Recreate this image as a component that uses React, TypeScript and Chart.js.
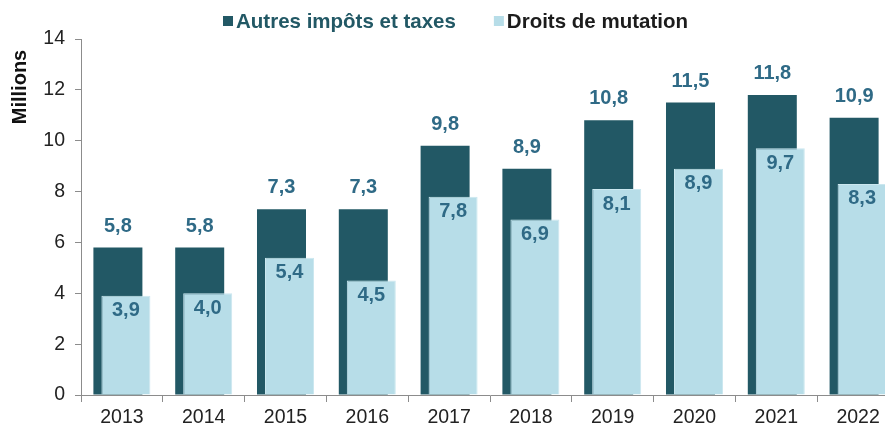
import { useEffect, useRef } from 'react';
import { Chart, registerables } from 'chart.js';

Chart.register(...registerables);

const years = ['2013', '2014', '2015', '2016', '2017', '2018', '2019', '2020', '2021', '2022'];
const autresValues = [5.8, 5.8, 7.3, 7.3, 9.8, 8.9, 10.8, 11.5, 11.8, 10.9];
const droitsValues = [3.9, 4.0, 5.4, 4.5, 7.8, 6.9, 8.1, 8.9, 9.7, 8.3];
const yTickValues = [0, 2, 4, 6, 8, 10, 12, 14];
const seriesNames = ['Autres impôts et taxes', 'Droits de mutation'];
const yTitle = 'Millions';

const FONT = "'Liberation Sans', Arial, sans-serif";
const DARK = '#225865';
const LIGHT = '#b7dde8';
const LABEL_COLOR = '#2f6a86';
const AXIS_COLOR = '#8c8c8c';
const TICK_COLOR = '#222222';

const fmt = (v: number) => v.toFixed(1).replace('.', ',');

const valueLabels = {
  id: 'valueLabels',
  afterDatasetsDraw(chart: any) {
    const ctx = chart.ctx;
    ctx.save();
    ctx.font = `bold 20px ${FONT}`;
    ctx.fillStyle = LABEL_COLOR;
    ctx.textAlign = 'center';
    ctx.textBaseline = 'alphabetic';
    chart.data.datasets.forEach((ds: any, di: number) => {
      const meta = chart.getDatasetMeta(di);
      meta.data.forEach((el: any, i: number) => {
        const v = ds.data[i] as number;
        const y = di === 0 ? el.y - 16 : el.y + 20.5;
        ctx.fillText(fmt(v), el.x, y);
      });
    });
    ctx.restore();
  },
};

const customLegend = {
  id: 'customLegend',
  afterDraw(chart: any) {
    const ctx = chart.ctx;
    ctx.save();
    ctx.font = `bold 20.5px ${FONT}`;
    ctx.textBaseline = 'alphabetic';
    ctx.textAlign = 'left';
    const colors = [DARK, LIGHT];
    const textColors = [DARK, '#1c1c1c'];
    let x = 223;
    const boxTop = 16;
    const baseline = 27.5;
    seriesNames.forEach((name, i) => {
      ctx.fillStyle = colors[i];
      ctx.fillRect(x, boxTop, 10, 10);
      const tx = x + 13;
      ctx.fillStyle = textColors[i];
      ctx.fillText(name, tx, baseline);
      x = tx + ctx.measureText(name).width + 38;
    });
    ctx.restore();
  },
};

const axisTitle = {
  id: 'axisTitle',
  afterDraw(chart: any) {
    const ctx = chart.ctx;
    ctx.save();
    ctx.font = `bold 20px ${FONT}`;
    ctx.fillStyle = '#111111';
    ctx.textAlign = 'center';
    ctx.textBaseline = 'middle';
    ctx.translate(20, 87);
    ctx.rotate(-Math.PI / 2);
    ctx.fillText(yTitle, 0, 0);
    ctx.restore();
  },
};

export default function App() {
  const ref = useRef<HTMLCanvasElement | null>(null);

  useEffect(() => {
    document.body.style.overflow = 'hidden';
    if (!ref.current) return;
    const chart = new Chart(ref.current, {
      type: 'bar',
      data: {
        labels: years,
        datasets: [
          {
            label: seriesNames[0],
            data: autresValues,
            backgroundColor: DARK,
            order: 1,
            categoryPercentage: -0.1956,
            barPercentage: -6.125,
          },
          {
            label: seriesNames[1],
            data: droitsValues,
            backgroundColor: LIGHT,
            borderColor: '#cbe7ef',
            borderWidth: 1,
            order: 0,
            categoryPercentage: -0.1956,
            barPercentage: -6.125,
          },
        ],
      },
      options: {
        responsive: false,
        animation: false,
        layout: { padding: { top: 39, right: 1, left: 0, bottom: 0 } },
        plugins: {
          legend: { display: false },
          tooltip: { enabled: false },
        },
        scales: {
          x: {
            offset: true,
            grid: {
              display: true,
              drawOnChartArea: false,
              drawTicks: true,
              tickLength: 7,
              color: AXIS_COLOR,
              offset: true,
            },
            border: { display: true, color: AXIS_COLOR, width: 1 },
            ticks: {
              color: TICK_COLOR,
              font: { family: FONT, size: 19.5 },
              padding: 4,
            },
            afterFit: (scale: any) => {
              scale.height = 33;
            },
          },
          y: {
            min: 0,
            max: 14,
            afterBuildTicks: (scale: any) => {
              scale.ticks = yTickValues.map((v) => ({ value: v }));
            },
            grid: {
              display: true,
              drawOnChartArea: false,
              drawTicks: true,
              tickLength: 6,
              color: AXIS_COLOR,
            },
            border: { display: true, color: AXIS_COLOR, width: 1 },
            ticks: {
              color: TICK_COLOR,
              font: { family: FONT, size: 19.5 },
              padding: 10,
            },
            afterFit: (scale: any) => {
              scale.width = 81;
            },
          },
        },
      },
      plugins: [valueLabels, customLegend, axisTitle],
    });
    return () => chart.destroy();
  }, []);

  return (
    <div style={{ position: 'absolute', left: 0, top: 0, width: 885, height: 428, overflow: 'hidden', background: '#ffffff' }}>
      <canvas ref={ref} width={900} height={428} style={{ display: 'block' }} />
    </div>
  );
}
